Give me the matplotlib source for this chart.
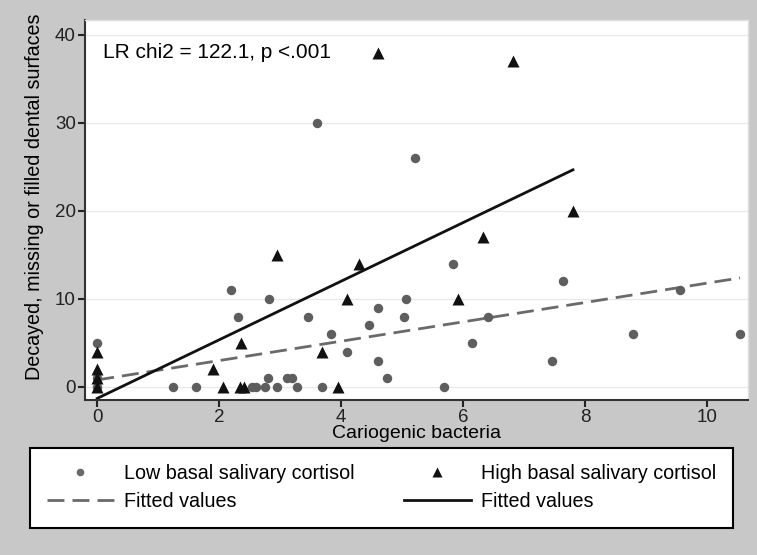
import numpy as np
import matplotlib
matplotlib.use('Agg')
import matplotlib.pyplot as plt
from matplotlib.lines import Line2D

plt.rcParams['font.family'] = ['Liberation Sans', 'DejaVu Sans']

# low basal salivary cortisol (circles)
low_x = [0, 0, 0, 1.25, 1.62, 2.54, 2.6, 2.75, 2.95, 3.28, 3.69, 5.69,
         2.8, 3.11, 3.2, 4.75, 2.31, 3.46, 4.45, 2.82, 2.2, 3.6, 5.21, 5.83,
         7.64, 5.06, 4.6, 5.03, 6.4, 9.55, 3.84, 8.79, 10.54, 6.15, 4.1, 4.6, 7.46]
low_y = [5, 0, 1, 0, 0, 0, 0, 0, 0, 0, 0, 0,
         1, 1, 1, 1, 8, 8, 7, 10, 11, 30, 26, 14,
         12, 10, 9, 8, 8, 11, 6, 6, 6, 5, 4, 3, 3]

# high basal salivary cortisol (triangles)
high_x = [0, 0, 0, 0, 1.9, 2.07, 2.34, 2.4, 3.95, 2.36, 3.69, 4.1, 2.95,
          4.3, 5.91, 4.6, 6.82, 7.8, 6.33]
high_y = [4, 2, 1, 0, 2, 0, 0, 0, 0, 5, 4, 10, 15,
          14, 10, 38, 37, 20, 17]

# fitted lines: intercept, slope (low, high)
fit_intercept = [0.8, -1.3]
fit_slope = [1.1, 3.33]

annot = 'LR chi2 = 122.1, p <.001'
xticks = [0, 2, 4, 6, 8, 10]
yticks = [0, 10, 20, 30, 40]

bg = '#c8c8c8'
fig = plt.figure(figsize=(7.57, 5.55), dpi=100, facecolor=bg)
ax = fig.add_axes([85/757, 1-400/555, (748-85)/757, (400-20)/555])
ax.set_facecolor('white')

ax.grid(axis='y', color='#e8e8e8', lw=0.9)
ax.set_axisbelow(True)

ax.plot(low_x, low_y, 'o', color='#5e5e5e', ms=6.8, mec='none', zorder=3)
ax.plot(high_x, high_y, '^', color='#111111', ms=8.5, mec='none', zorder=3)

xl = np.array([min(low_x), max(low_x)])
xh = np.array([min(high_x), max(high_x)])
ax.plot(xl, fit_intercept[0] + fit_slope[0] * xl, color='#6a6a6a', lw=2,
        dashes=(6.1, 2.9), zorder=2)
ax.plot(xh, fit_intercept[1] + fit_slope[1] * xh, color='#111111', lw=2, zorder=2)

ax.text(0.1, 38, annot, fontsize=15, va='center', ha='left')

ax.set_xlim(-0.2, 10.67)
ax.set_ylim(-1.48, 41.7)
ax.set_xticks(xticks)
ax.set_yticks(yticks)
ax.tick_params(direction='out', length=5, width=1.5, labelsize=13.5,
               colors='#222222', pad=1.5)
for s in ['left', 'bottom']:
    ax.spines[s].set_color('#333333')
    ax.spines[s].set_linewidth(1.5)
for s in ['top', 'right']:
    ax.spines[s].set_color('#e0e0e0')
    ax.spines[s].set_linewidth(1)

ax.set_xlabel('Cariogenic bacteria', fontsize=14, va='center')
ax.xaxis.set_label_coords(0.5, -(434-400)/380)
ax.set_ylabel('Decayed, missing or filled dental surfaces', fontsize=14.2)
ax.yaxis.set_label_coords(-0.062, 0.534)

handles = [
    Line2D([], [], marker='o', ls='none', color='#6a6a6a', ms=5.5, mec='none'),
    Line2D([], [], color='#6a6a6a', lw=2, dashes=(6.1, 2.9)),
    Line2D([], [], marker='^', ls='none', color='#111111', ms=7, mec='none'),
    Line2D([], [], color='#111111', lw=2),
]
labels = ['Low basal salivary cortisol', 'Fitted values',
          'High basal salivary cortisol', 'Fitted values']
leg = fig.legend(handles, labels, ncol=2,
                 bbox_to_anchor=(30/757, 1-528/555),
                 loc='lower left', fontsize=14.2, frameon=True, fancybox=False,
                 edgecolor='black', facecolor='white', framealpha=1,
                 handlelength=3.4, handletextpad=0.5,
                 borderpad=0.85, borderaxespad=0, labelspacing=0.45,
                 columnspacing=2.5)
leg.get_frame().set_linewidth(1.5)

fig.savefig('out.png', dpi=100, facecolor=bg)
